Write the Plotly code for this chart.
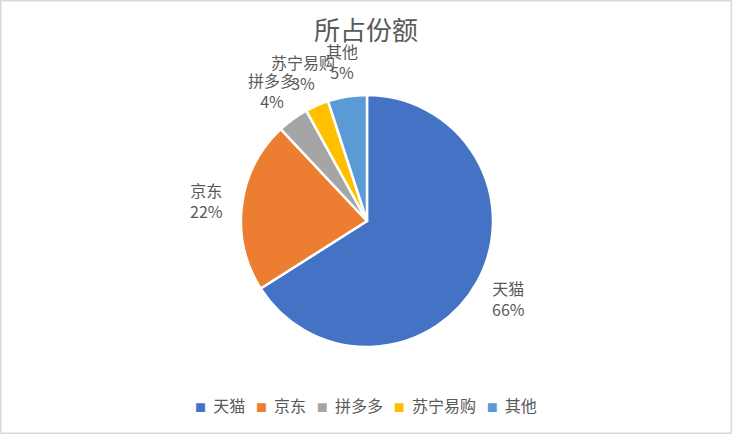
import math
import plotly.graph_objects as go

categories = ["天猫", "京东", "拼多多", "苏宁易购", "其他"]
shares = [66, 22, 4, 3, 5]
colors = ["#4472C4", "#ED7D31", "#A5A5A5", "#FFC000", "#5B9BD5"]
title_text = "所占份额"

font_family = "Noto Sans CJK SC, Microsoft YaHei, sans-serif"
text_color = "#595959"

W, H = 732, 434
dom_x = [0.3292, 0.6735]
dom_y = [0.2005, 0.7811]

fig = go.Figure()
fig.add_trace(go.Pie(
    labels=categories,
    values=shares,
    sort=False,
    direction="clockwise",
    rotation=0,
    marker=dict(colors=colors, line=dict(color="white", width=2.5)),
    textinfo="none",
    hoverinfo="label+percent",
    domain=dict(x=dom_x, y=dom_y),
    automargin=False,
    showlegend=False,
))

# data labels placed around the pie, derived from each slice's mid-angle
cx = (dom_x[0] + dom_x[1]) / 2 * W
cy = (dom_y[0] + dom_y[1]) / 2 * H
R = min((dom_x[1] - dom_x[0]) * W, (dom_y[1] - dom_y[0]) * H) / 2
label_r = R * 1.28
total = sum(shares)
annotations = []
cum = 0
for name, v in zip(categories, shares):
    mid = (cum + v / 2) / total * 2 * math.pi
    cum += v
    lx = cx + label_r * math.sin(mid)
    ly = cy + label_r * math.cos(mid)
    pct = round(v / total * 100)
    annotations.append(dict(
        x=lx / W, y=ly / H, xref="paper", yref="paper",
        text=f"{name}<br>{pct}%", showarrow=False,
        xanchor="center", yanchor="middle", align="center",
        font=dict(family=font_family, size=16, color=text_color),
    ))

# compact Excel-style legend built from the category names and colours
legend_parts = [
    f"<span style='color:{c};font-size:11px'>■</span>\u00a0\u00a0{name}"
    for name, c in zip(categories, colors)
]
annotations.append(dict(
    x=0.5, y=1 - 405 / H, xref="paper", yref="paper",
    text="\u00a0\u00a0\u00a0".join(legend_parts), showarrow=False,
    xanchor="center", yanchor="middle",
    font=dict(family=font_family, size=16, color=text_color),
))

fig.update_layout(
    width=W, height=H,
    margin=dict(l=0, r=0, t=0, b=0),
    paper_bgcolor="white",
    plot_bgcolor="white",
    title=dict(text=title_text, x=0.5, xanchor="center", y=1 - 31 / H, yanchor="middle",
               font=dict(family=font_family, size=26, color=text_color)),
    showlegend=False,
    annotations=annotations,
    shapes=[dict(type="rect", xref="paper", yref="paper", x0=0, y0=0, x1=1, y1=1,
                 line=dict(color="#D9D9D9", width=3), fillcolor="rgba(0,0,0,0)", layer="above")],
)

fig.write_html(
    "out.html",
    config={"displayModeBar": False},
    post_script="document.body.style.margin='0';document.body.style.padding='0';document.body.style.overflow='hidden';",
)
